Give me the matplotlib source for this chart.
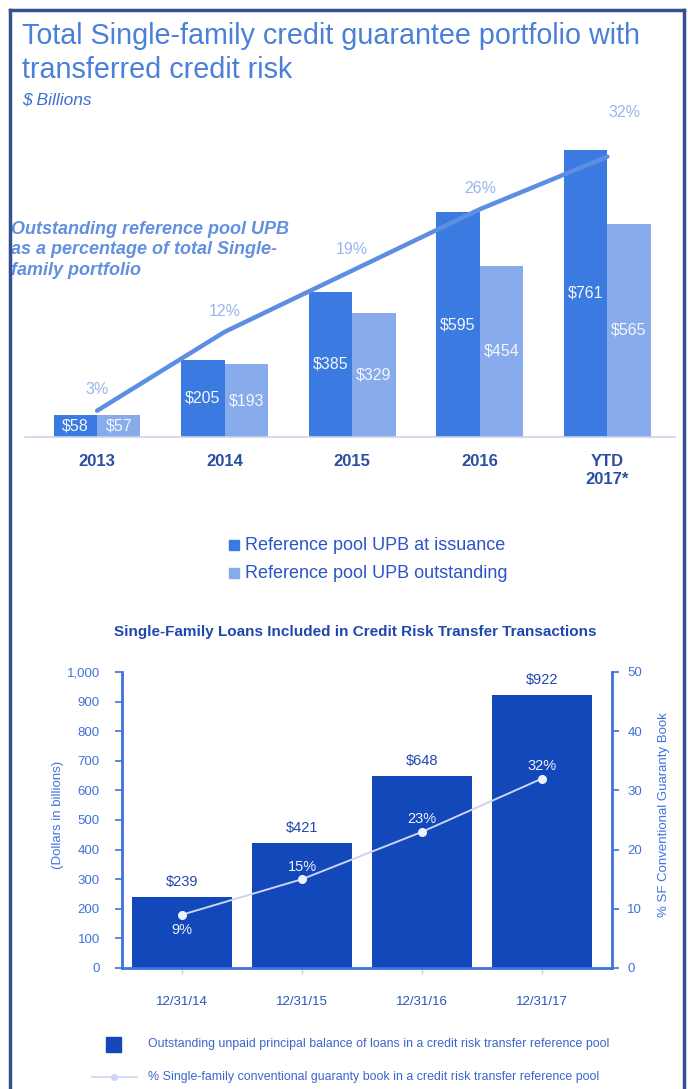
import numpy as np
import matplotlib
matplotlib.use('Agg')
import matplotlib.pyplot as plt
from matplotlib import font_manager
from matplotlib.patches import Rectangle
from matplotlib.lines import Line2D

# narrow Arial-like face if it is there
names = {f.name for f in font_manager.fontManager.ttflist}
FONT = 'Liberation Sans Narrow' if 'Liberation Sans Narrow' in names else 'Liberation Sans'
plt.rcParams['font.family'] = [FONT, 'DejaVu Sans']

# upper chart: reference pool UPB, $ billions
years = ['2013', '2014', '2015', '2016', 'YTD\n2017*']
issuance = [58, 205, 385, 595, 761]
outstanding = [57, 193, 329, 454, 565]
pct_total = [3, 12, 19, 26, 32]

# lower chart: CRT loans
dates = ['12/31/14', '12/31/15', '12/31/16', '12/31/17']
crt_upb = [239, 421, 648, 922]
crt_pct = [9, 15, 23, 32]

DARK = '#3b7ae0'
LIGHT = '#87abeb'
NAVY = '#1248b9'
AXBLUE = '#3f73dc'

W, H = 688, 1089
fig = plt.figure(figsize=(W / 100, H / 100), dpi=100)


def fx(px):
    return px / W


def fy(py):
    return 1 - py / H


def box(l, t, r, b):
    return [fx(l), fy(b), (r - l) / W, (b - t) / H]


# ---- headings ----
fig.text(fx(22), fy(44), 'Total Single-family credit guarantee portfolio with',
         fontsize=20.7, color='#4a80d9', va='baseline')
fig.text(fx(22), fy(78), 'transferred credit risk',
         fontsize=20.7, color='#4a80d9', va='baseline')
fig.text(fx(22), fy(104), '$ Billions', fontsize=12.5, color='#3a6fd0',
         style='italic', va='baseline')

# ---- upper chart ----
ax = fig.add_axes(box(25, 100, 675, 437))
x = np.arange(len(years))
w = 0.34
ax.bar(x - w / 2, issuance, w, color=DARK, zorder=2)
ax.bar(x + w / 2, outstanding, w, color=LIGHT, zorder=2)
for xi, v in zip(x, issuance):
    ax.text(xi - w / 2, v / 2, f'${v}', ha='center', va='center',
            fontsize=11.5, color='#f2f6fd', zorder=3)
for xi, v in zip(x, outstanding):
    ax.text(xi + w / 2, v / 2, f'${v}', ha='center', va='center',
            fontsize=11.5, color='#f2f6fd', zorder=3)
ax.set_xlim(-0.565, 4.53)
ax.set_ylim(0, 337 / 0.3775)
ax.set_xticks(x)
ax.set_xticklabels(years, fontsize=12, fontweight='bold', color='#2b4ea3',
                   linespacing=1.3)
ax.tick_params(axis='x', length=0, pad=12)
ax.set_yticks([])
for s in ['top', 'left', 'right']:
    ax.spines[s].set_visible(False)
ax.spines['bottom'].set_color('#c9d3e8')
ax.spines['bottom'].set_linewidth(1.2)
ax.patch.set_alpha(0)

ax2 = ax.twinx()
ax2.set_ylim(0, 337 / 8.76)
ax2.plot(x, pct_total, color='#5c8fe3', lw=3.2, solid_capstyle='round',
         solid_joinstyle='round', zorder=4)
for xi, p in zip(x, pct_total):
    off = (12, 32) if xi == x[-1] else (0, 15)
    ax2.annotate(f'{p}%', (xi, p), xytext=off, textcoords='offset points',
                 ha='center', va='center', fontsize=11.5, color='#9ab5ea')
ax2.axis('off')

fig.text(fx(11), fy(250), 'Outstanding reference pool UPB\nas a percentage of total Single-\nfamily portfolio',
         fontsize=13, fontweight='bold', style='italic', color='#628fe2',
         va='center', linespacing=1.3)

# legend of the upper chart
for yc, col, lab in [(545, DARK, 'Reference pool UPB at issuance'),
                     (573, LIGHT, 'Reference pool UPB outstanding')]:
    fig.add_artist(Rectangle((fx(229), fy(yc + 5)), 10 / W, 10 / H,
                             transform=fig.transFigure, color=col))
    fig.text(fx(245), fy(yc), lab, fontsize=13, color='#2c54c8', va='center')

# ---- lower chart ----
fig.text(fx(355), fy(632), 'Single-Family Loans Included in Credit Risk Transfer Transactions',
         fontsize=11, fontweight='bold', color='#1f47ad', ha='center', va='center')

bx = fig.add_axes(box(122, 672, 612, 968))
xb = np.arange(len(dates))
bx.bar(xb, crt_upb, 0.84, color=NAVY, zorder=2)
for xi, v in zip(xb, crt_upb):
    bx.annotate(f'${v}', (xi, v), xytext=(0, 11), textcoords='offset points',
                ha='center', va='center', fontsize=10.5, color='#1f47ad')
bx.set_xlim(-0.5, 3.583)
bx.set_ylim(0, 1000)
bx.set_yticks(range(0, 1001, 100))
bx.set_yticklabels([f'{v:,}' for v in range(0, 1001, 100)])
bx.set_xticks(xb)
bx.set_xticklabels(dates)
bx.tick_params(axis='y', colors=AXBLUE, labelsize=9.5, length=5, width=1.2, pad=11)
bx.tick_params(axis='x', colors='#c4cfe8', labelcolor='#2a55c0', labelsize=9.5,
               length=4, width=1, pad=16)
for s in ['left', 'bottom']:
    bx.spines[s].set_color(AXBLUE)
    bx.spines[s].set_linewidth(2)
bx.spines['top'].set_visible(False)
bx.spines['right'].set_visible(False)

bx2 = bx.twinx()
bx2.set_ylim(0, 50)
bx2.set_yticks(range(0, 51, 10))
bx2.tick_params(axis='y', colors=AXBLUE, labelsize=9.5, length=5, width=1.2, pad=6)
bx2.spines['right'].set_color(AXBLUE)
bx2.spines['right'].set_linewidth(2)
for s in ['left', 'top', 'bottom']:
    bx2.spines[s].set_visible(False)
bx2.plot(xb, crt_pct, color='#c9d5f2', lw=1.4, marker='o', ms=5.5,
         mfc='#eef2fc', mec='#eef2fc', zorder=4)
for xi, p in zip(xb, crt_pct):
    off = (0, -11) if xi == 0 else (0, 9)
    bx2.annotate(f'{p}%', (xi, p), xytext=off, textcoords='offset points',
                 ha='center', va='center', fontsize=10.5, color='#eef2fc')

fig.text(fx(58), fy(815), '(Dollars in billions)', rotation=90, fontsize=9.5,
         color=AXBLUE, ha='center', va='center')
fig.text(fx(664), fy(815), '% SF Conventional Guaranty Book', rotation=90,
         fontsize=9.5, color=AXBLUE, ha='center', va='center')

# legend of the lower chart
fig.add_artist(Rectangle((fx(106), fy(1052)), 15 / W, 15 / H,
                         transform=fig.transFigure, color=NAVY))
fig.text(fx(148), fy(1044), 'Outstanding unpaid principal balance of loans in a credit risk transfer reference pool',
         fontsize=8.9, color='#3a66cc', va='center')
fig.add_artist(Line2D([fx(92), fx(137)], [fy(1077), fy(1077)], color='#c9d5f2', lw=1.2))
fig.add_artist(Line2D([fx(114)], [fy(1077)], marker='o', ms=4, color='#c9d5f2'))
fig.text(fx(148), fy(1077), '% Single-family conventional guaranty book in a credit risk transfer reference pool',
         fontsize=8.9, color='#3a66cc', va='center')

# outer frame
FRAME = '#34508e'
fig.add_artist(Line2D([fx(10), fx(10)], [fy(10), 0], color=FRAME, lw=2.5, zorder=10))
fig.add_artist(Line2D([fx(10), fx(684)], [fy(10), fy(10)], color=FRAME, lw=2.5, zorder=10))
fig.add_artist(Line2D([fx(684), fx(684)], [fy(10), 0], color=FRAME, lw=2.5, zorder=10))

fig.savefig('out.png', dpi=100)
